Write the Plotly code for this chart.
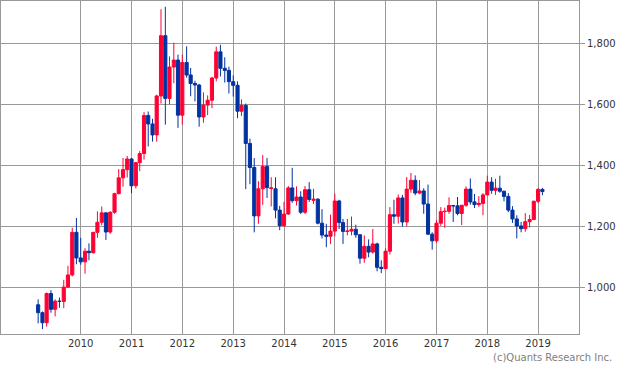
import pandas as pd
import plotly.graph_objects as go

# Monthly candles, 2009-03 .. 2019-02
months = pd.date_range("2009-03-01", periods=120, freq="MS")
year_ticks = ["2010", "2011", "2012", "2013", "2014", "2015", "2016", "2017", "2018", "2019"]

open_ = [
    942, 916, 883, 979, 927, 954, 953, 1000, 1040, 1180,
    1096, 1083, 1118, 1113, 1180, 1213, 1244, 1181, 1246, 1307, 1359, 1386,
    1421, 1333, 1409, 1439, 1564, 1536, 1500, 1628, 1826, 1620, 1723, 1746,
    1565, 1738, 1697, 1669, 1664, 1559, 1598, 1614, 1687, 1773, 1719, 1712,
    1675, 1663, 1578, 1597, 1472, 1393, 1234, 1323, 1396, 1324, 1323, 1253,
    1202, 1240, 1326, 1284, 1296, 1246, 1320, 1285, 1289, 1210, 1171, 1167,
    1184, 1283, 1212, 1183, 1184, 1190, 1172, 1095, 1134, 1115, 1142, 1065,
    1061, 1118, 1238, 1233, 1293, 1214, 1322, 1351, 1309, 1316, 1273, 1174,
    1152, 1210, 1248, 1249, 1268, 1267, 1242, 1269, 1322, 1280, 1271, 1275,
    1303, 1345, 1318, 1325, 1315, 1298, 1253, 1224, 1201, 1192, 1215, 1222,
    1282, 1321,
]
high = [
    960, 920, 982, 990, 960, 966, 1024, 1070, 1195, 1227,
    1162, 1128, 1144, 1180, 1249, 1265, 1245, 1249, 1310, 1388, 1424, 1431,
    1424, 1411, 1447, 1575, 1577, 1553, 1632, 1913, 1921, 1758, 1803, 1764,
    1764, 1791, 1720, 1678, 1668, 1640, 1630, 1691, 1790, 1796, 1755, 1724,
    1696, 1676, 1617, 1603, 1488, 1424, 1348, 1434, 1424, 1361, 1361, 1267,
    1280, 1332, 1392, 1331, 1315, 1332, 1345, 1323, 1292, 1256, 1208, 1238,
    1307, 1287, 1224, 1224, 1232, 1205, 1174, 1170, 1157, 1191, 1146, 1088,
    1128, 1263, 1287, 1304, 1303, 1362, 1375, 1367, 1352, 1325, 1337, 1180,
    1220, 1263, 1261, 1295, 1270, 1296, 1270, 1331, 1357, 1306, 1299, 1309,
    1366, 1361, 1356, 1366, 1317, 1309, 1266, 1236, 1214, 1243, 1237, 1284,
    1326, 1326,
]
low = [
    881, 862, 870, 916, 904, 932, 931, 998, 1035, 1075,
    1074, 1044, 1088, 1110, 1162, 1203, 1155, 1175, 1241, 1305, 1330, 1360,
    1309, 1324, 1381, 1419, 1462, 1478, 1478, 1603, 1534, 1600, 1670, 1523,
    1534, 1688, 1627, 1610, 1527, 1540, 1565, 1588, 1676, 1692, 1672, 1636,
    1626, 1555, 1562, 1322, 1338, 1180, 1208, 1270, 1293, 1265, 1226, 1187,
    1198, 1238, 1277, 1268, 1240, 1240, 1280, 1273, 1206, 1160, 1131, 1142,
    1167, 1191, 1142, 1170, 1170, 1162, 1077, 1080, 1098, 1110, 1052, 1046,
    1059, 1107, 1208, 1209, 1199, 1200, 1310, 1302, 1305, 1241, 1171, 1123,
    1146, 1201, 1195, 1241, 1214, 1236, 1204, 1264, 1271, 1260, 1264, 1236,
    1302, 1307, 1303, 1310, 1282, 1246, 1211, 1160, 1180, 1182, 1196, 1221,
    1276, 1302,
]
close = [
    916, 883, 979, 927, 954, 953, 1000, 1040, 1180, 1096,
    1083, 1118, 1113, 1180, 1213, 1244, 1181, 1246, 1307, 1359, 1386, 1421,
    1333, 1409, 1439, 1564, 1536, 1500, 1628, 1826, 1620, 1723, 1746, 1565,
    1738, 1697, 1669, 1664, 1559, 1598, 1614, 1687, 1773, 1719, 1712, 1675,
    1663, 1578, 1597, 1472, 1393, 1234, 1323, 1396, 1327, 1326, 1253, 1202,
    1240, 1326, 1284, 1296, 1246, 1320, 1288, 1289, 1210, 1171, 1167, 1184,
    1283, 1212, 1183, 1184, 1190, 1172, 1095, 1134, 1115, 1142, 1065, 1061,
    1118, 1238, 1233, 1293, 1214, 1322, 1351, 1309, 1316, 1273, 1174, 1152,
    1210, 1248, 1249, 1268, 1267, 1242, 1269, 1322, 1280, 1271, 1275, 1303,
    1345, 1318, 1325, 1315, 1298, 1253, 1224, 1201, 1192, 1215, 1222, 1282,
    1321, 1314,
]

UP = "#FF0033"
DOWN = "#0033A0"
GRID = "#999999"

fig = go.Figure(
    go.Candlestick(
        x=months, open=open_, high=high, low=low, close=close,
        increasing=dict(line=dict(color=UP, width=1), fillcolor=UP),
        decreasing=dict(line=dict(color=DOWN, width=1), fillcolor=DOWN),
        whiskerwidth=0,
        hoverinfo="skip",
    )
)

fig.update_layout(
    width=621, height=373,
    margin=dict(l=1, r=42, t=1, b=39),
    plot_bgcolor="white", paper_bgcolor="white",
    showlegend=False,
    boxgap=0.2, boxgroupgap=0,
    font=dict(family="DejaVu Sans", size=10, color="#333333"),
    annotations=[dict(
        text="(c)Quants Research Inc.", xref="paper", yref="paper",
        x=1.0606, y=-0.072, xanchor="right", yanchor="middle",
        showarrow=False, font=dict(size=10, color="#808080"),
    )],
)
fig.update_xaxes(
    type="date", range=["2008-06-07", "2019-10-22"],
    tickvals=[y + "-01-01" for y in year_ticks], ticktext=year_ticks,
    showgrid=True, gridcolor=GRID, gridwidth=1,
    showline=True, linecolor=GRID, linewidth=1, mirror=True,
    ticks="", zeroline=False, rangeslider=dict(visible=False),
    automargin=False,
)
fig.update_yaxes(
    side="right", range=[846, 1940], tick0=0, dtick=200, tickformat=",d",
    showgrid=True, gridcolor=GRID, gridwidth=1,
    showline=True, linecolor=GRID, linewidth=1, mirror=True,
    ticks="outside", ticklen=5, tickcolor=GRID, zeroline=False,
    automargin=False,
)

fig.write_html(
    "out.html",
    config={"displayModeBar": False},
    post_script="document.body.style.margin='0';document.body.style.overflow='hidden';",
)
